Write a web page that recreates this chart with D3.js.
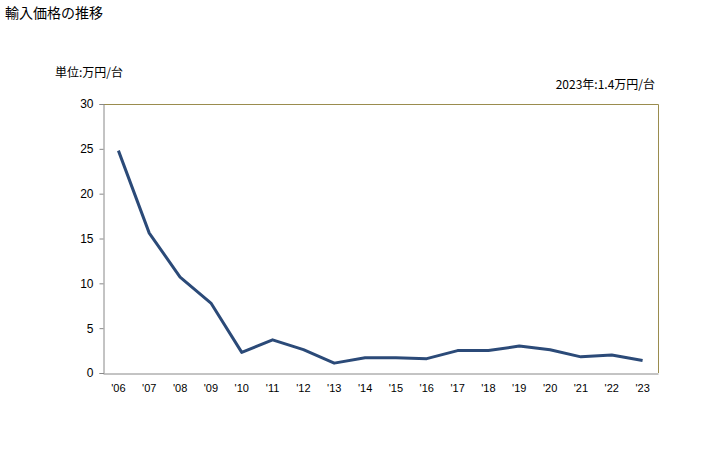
<!DOCTYPE html>
<html><head><meta charset="utf-8">
<script src="https://cdn.jsdelivr.net/npm/d3@7"></script>
<style>body{margin:0;background:#fff;}svg{display:block;font-family:"Noto Sans CJK JP","Noto Sans",sans-serif;}</style>
</head><body>
<svg id="chart" width="728" height="450"></svg>
<script>
const years = ["'06","'07","'08","'09","'10","'11","'12","'13","'14","'15","'16","'17","'18","'19","'20","'21","'22","'23"];
const values = [24.8,15.6,10.7,7.8,2.3,3.7,2.6,1.1,1.7,1.7,1.6,2.5,2.5,3.0,2.6,1.8,2.0,1.4];
const yTicks = [0,5,10,15,20,25,30];
const title = "輸入価格の推移";
const unitLabel = "単位:万円/台";
const note = "2023年:1.4万円/台";

const svg = d3.select("#chart");
const L=103, R=658, T=104, B=373;
const x = d3.scaleBand().domain(years).range([L,R]);
const y = d3.scaleLinear().domain([0,30]).range([B,T]);

svg.append("text").attr("x",5).attr("y",18).attr("font-size",14).attr("fill","#000").text(title);
svg.append("text").attr("x",55).attr("y",77).attr("font-size",12).attr("fill","#000").text(unitLabel);
svg.append("text").attr("x",655).attr("y",89).attr("font-size",12).attr("text-anchor","end").attr("fill","#000").text(note);

// frame top & right
svg.append("path").attr("d",`M${L},${T+0.5}H${R+0.5}V${B}`).attr("fill","none").attr("stroke","#9a8c4e").attr("stroke-width",1);

// y axis
const ya = svg.append("g").attr("transform",`translate(${L+0.5},0)`)
  .call(d3.axisLeft(y).tickValues(yTicks).tickSize(4).tickPadding(6));
ya.select(".domain").attr("stroke","#888");
ya.selectAll(".tick line").attr("stroke","#888");
ya.selectAll(".tick text").attr("font-size",12).attr("fill","#000").attr("font-family","Liberation Sans, Arial, sans-serif");

// x axis
const xa = svg.append("g").attr("transform",`translate(0,${B+0.5})`)
  .call(d3.axisBottom(x).tickSize(0).tickPadding(11));
xa.select(".domain").attr("stroke","#888");
xa.selectAll(".tick text").attr("font-size",11).attr("fill","#000").attr("font-family","Liberation Sans, Arial, sans-serif");

const line = d3.line().x((d,i)=>x(years[i])+x.bandwidth()/2).y(d=>y(d));
svg.append("path").datum(values).attr("d",line).attr("fill","none")
  .attr("stroke","#2b4a78").attr("stroke-width",3).attr("stroke-linejoin","round");
</script>
</body></html>
